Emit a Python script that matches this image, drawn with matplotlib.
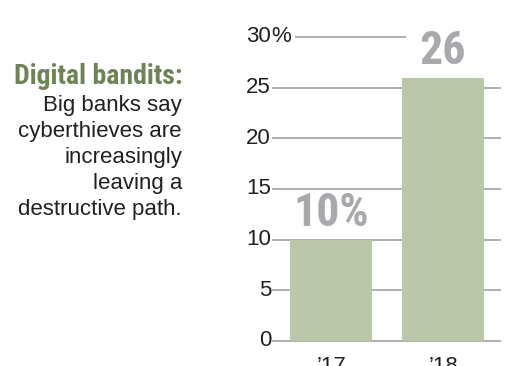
import matplotlib
matplotlib.use("Agg")
import matplotlib.pyplot as plt
from matplotlib import font_manager
from matplotlib.transforms import blended_transform_factory

years = ["\u201917", "\u201918"]
values = [10, 26]
value_labels = ["10%", "26"]
yticks = [0, 5, 10, 15, 20, 25, 30]
title = "Digital bandits:"
body = ["Big banks say", "cyberthieves are", "increasingly", "leaving a", "destructive path."]

names = {f.name for f in font_manager.fontManager.ttflist}
cands = ["Roboto Condensed", "Liberation Sans Narrow", "Archivo Narrow", "PT Sans Narrow",
         "Barlow Condensed", "Fira Sans Condensed", "Sofia Sans Condensed"]
cond = "DejaVu Sans"
for c in cands:
    if c in names:
        cond = c
        break

W, H = 508, 366
fig = plt.figure(figsize=(W / 100, H / 100), dpi=100)
fig.patch.set_facecolor("white")

def fx(px):
    return px / W

def fy(py):
    return (H - py) / H

ax_l, ax_r = 273, 500
y0, y30 = 341, 37
ax = fig.add_axes([fx(ax_l), fy(y0), fx(ax_r - ax_l), (y0 - y30) / H])
ax.set_ylim(0, 30)
spacing = 112.0
xlo = -(331 - ax_l) / spacing
xhi = 1 + (ax_r - 443) / spacing
ax.set_xlim(xlo, xhi)
for s in ax.spines.values():
    s.set_visible(False)
ax.set_xticks([])
ax.set_yticks([])
ax.patch.set_alpha(0)

grid_col = "#a7a9ac"
for t in yticks:
    if t == 30:
        ax.axhline(t, xmin=(296 - ax_l) / (ax_r - ax_l), xmax=(405 - ax_l) / (ax_r - ax_l),
                   color=grid_col, lw=1.3, zorder=1, clip_on=False)
    else:
        ax.axhline(t, color=grid_col, lw=1.3, zorder=1, clip_on=False)

xs = list(range(len(values)))
ax.bar(xs, values, width=82 / spacing, color="#bac8a9", zorder=2)

body_fs = 16
tr = blended_transform_factory(fig.transFigure, ax.transData)
for t in yticks:
    ax.text(fx(271), t, str(t), transform=tr, ha="right", va="center",
            fontsize=body_fs, family="Liberation Sans", color="#231f20")
ax.text(fx(271), 30, "%", transform=tr, ha="left", va="center",
        fontsize=body_fs, family="Liberation Sans", color="#231f20")

for x, v, lab in zip(xs, values, value_labels):
    ax.text(x, v + 1.3, lab, ha="center", va="baseline", fontsize=33,
            family=cond, weight="bold", color="#a7a9ac", zorder=3)

xtr = blended_transform_factory(ax.transData, fig.transFigure)
for x, lab in zip(xs, years):
    ax.text(x, fy(356), lab, transform=xtr, ha="center", va="top",
            fontsize=body_fs, family="Liberation Sans", color="#231f20")

fig.text(fx(182), fy(76), title, ha="right", va="center", fontsize=20,
         family=cond, weight="bold", color="#6f8456")
for i, line in enumerate(body):
    fig.text(fx(182), fy(106 + 26 * i), line, ha="right", va="center", fontsize=body_fs,
             family="Liberation Sans", color="#231f20")

fig.savefig("out.png", dpi=100, facecolor="white")
